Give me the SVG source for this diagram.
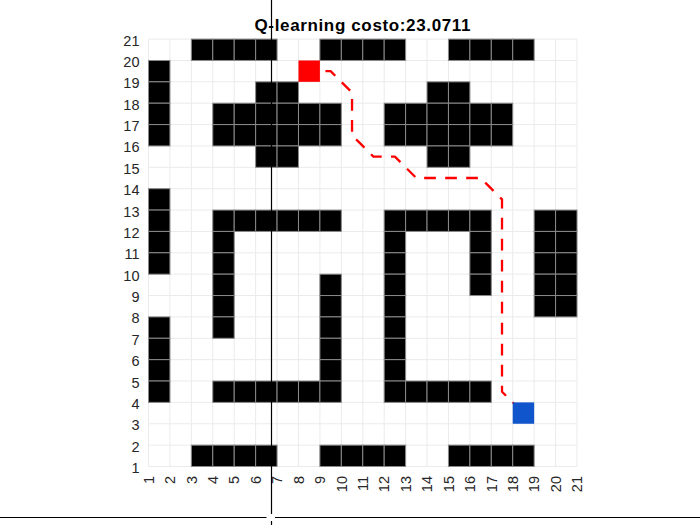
<svg xmlns="http://www.w3.org/2000/svg" xmlns:xlink="http://www.w3.org/1999/xlink" width="700" height="525" viewBox="0 0 700 525">
<style>
.o{fill:#000;stroke:#8a8a8a;stroke-width:1}
.g{stroke:#ebebeb;stroke-width:1;fill:none}
.yl{font-family:"Liberation Sans",Arial,sans-serif;font-size:14.5px;fill:#262626;text-anchor:end}
.xl{font-family:"Liberation Sans",Arial,sans-serif;font-size:14.5px;fill:#262626;text-anchor:end}
.t{font-family:"Liberation Sans",Arial,sans-serif;font-size:17px;font-weight:bold;fill:#000;text-anchor:middle}
.ax{stroke:#000;stroke-width:1.2;fill:none}
</style>
<defs>
<rect id="c" class="o" width="21.43" height="21.37"/>
</defs>
<rect width="700" height="525" fill="#fff"/>
<g id="grid">
<path class="g" d="M148.5 39.1V466.5M169.93 39.1V466.5M191.35 39.1V466.5M212.78 39.1V466.5M234.2 39.1V466.5M255.63 39.1V466.5M277.05 39.1V466.5M298.48 39.1V466.5M319.9 39.1V466.5M341.33 39.1V466.5M362.75 39.1V466.5M384.18 39.1V466.5M405.6 39.1V466.5M427.03 39.1V466.5M448.45 39.1V466.5M469.88 39.1V466.5M491.3 39.1V466.5M512.73 39.1V466.5M534.15 39.1V466.5M555.58 39.1V466.5M577 39.1V466.5"/>
<path class="g" d="M148.5 466.5H577M148.5 445.13H577M148.5 423.76H577M148.5 402.39H577M148.5 381.02H577M148.5 359.65H577M148.5 338.28H577M148.5 316.91H577M148.5 295.54H577M148.5 274.17H577M148.5 252.8H577M148.5 231.43H577M148.5 210.06H577M148.5 188.69H577M148.5 167.32H577M148.5 145.95H577M148.5 124.58H577M148.5 103.21H577M148.5 81.84H577M148.5 60.47H577M148.5 39.1H577"/>
</g>
<g id="obstacles">
<!-- row 20 -->
<use href="#c" x="191.35" y="39.1"/><use href="#c" x="212.78" y="39.1"/><use href="#c" x="234.2" y="39.1"/><use href="#c" x="255.63" y="39.1"/>
<use href="#c" x="319.9" y="39.1"/><use href="#c" x="341.33" y="39.1"/><use href="#c" x="362.75" y="39.1"/><use href="#c" x="384.18" y="39.1"/>
<use href="#c" x="448.45" y="39.1"/><use href="#c" x="469.88" y="39.1"/><use href="#c" x="491.3" y="39.1"/><use href="#c" x="512.73" y="39.1"/>
<!-- row 19 -->
<use href="#c" x="148.5" y="60.47"/>
<!-- row 18 -->
<use href="#c" x="148.5" y="81.84"/><use href="#c" x="255.63" y="81.84"/><use href="#c" x="277.05" y="81.84"/><use href="#c" x="427.03" y="81.84"/><use href="#c" x="448.45" y="81.84"/>
<!-- row 17 -->
<use href="#c" x="148.5" y="103.21"/>
<use href="#c" x="212.78" y="103.21"/><use href="#c" x="234.2" y="103.21"/><use href="#c" x="255.63" y="103.21"/><use href="#c" x="277.05" y="103.21"/><use href="#c" x="298.48" y="103.21"/><use href="#c" x="319.9" y="103.21"/>
<use href="#c" x="384.18" y="103.21"/><use href="#c" x="405.6" y="103.21"/><use href="#c" x="427.03" y="103.21"/><use href="#c" x="448.45" y="103.21"/><use href="#c" x="469.88" y="103.21"/><use href="#c" x="491.3" y="103.21"/>
<!-- row 16 -->
<use href="#c" x="148.5" y="124.58"/>
<use href="#c" x="212.78" y="124.58"/><use href="#c" x="234.2" y="124.58"/><use href="#c" x="255.63" y="124.58"/><use href="#c" x="277.05" y="124.58"/><use href="#c" x="298.48" y="124.58"/><use href="#c" x="319.9" y="124.58"/>
<use href="#c" x="384.18" y="124.58"/><use href="#c" x="405.6" y="124.58"/><use href="#c" x="427.03" y="124.58"/><use href="#c" x="448.45" y="124.58"/><use href="#c" x="469.88" y="124.58"/><use href="#c" x="491.3" y="124.58"/>
<!-- row 15 -->
<use href="#c" x="255.63" y="145.95"/><use href="#c" x="277.05" y="145.95"/><use href="#c" x="427.03" y="145.95"/><use href="#c" x="448.45" y="145.95"/>
<!-- row 13 -->
<use href="#c" x="148.5" y="188.69"/>
<!-- row 12 -->
<use href="#c" x="148.5" y="210.06"/>
<use href="#c" x="212.78" y="210.06"/><use href="#c" x="234.2" y="210.06"/><use href="#c" x="255.63" y="210.06"/><use href="#c" x="277.05" y="210.06"/><use href="#c" x="298.48" y="210.06"/><use href="#c" x="319.9" y="210.06"/>
<use href="#c" x="384.18" y="210.06"/><use href="#c" x="405.6" y="210.06"/><use href="#c" x="427.03" y="210.06"/><use href="#c" x="448.45" y="210.06"/><use href="#c" x="469.88" y="210.06"/>
<use href="#c" x="534.15" y="210.06"/><use href="#c" x="555.58" y="210.06"/>
<!-- row 11 -->
<use href="#c" x="148.5" y="231.43"/><use href="#c" x="212.78" y="231.43"/><use href="#c" x="384.18" y="231.43"/><use href="#c" x="469.88" y="231.43"/><use href="#c" x="534.15" y="231.43"/><use href="#c" x="555.58" y="231.43"/>
<!-- row 10 -->
<use href="#c" x="148.5" y="252.8"/><use href="#c" x="212.78" y="252.8"/><use href="#c" x="384.18" y="252.8"/><use href="#c" x="469.88" y="252.8"/><use href="#c" x="534.15" y="252.8"/><use href="#c" x="555.58" y="252.8"/>
<!-- row 9 -->
<use href="#c" x="212.78" y="274.17"/><use href="#c" x="319.9" y="274.17"/><use href="#c" x="384.18" y="274.17"/><use href="#c" x="469.88" y="274.17"/><use href="#c" x="534.15" y="274.17"/><use href="#c" x="555.58" y="274.17"/>
<!-- row 8 -->
<use href="#c" x="212.78" y="295.54"/><use href="#c" x="319.9" y="295.54"/><use href="#c" x="384.18" y="295.54"/><use href="#c" x="534.15" y="295.54"/><use href="#c" x="555.58" y="295.54"/>
<!-- row 7 -->
<use href="#c" x="148.5" y="316.91"/><use href="#c" x="212.78" y="316.91"/><use href="#c" x="319.9" y="316.91"/><use href="#c" x="384.18" y="316.91"/>
<!-- row 6 -->
<use href="#c" x="148.5" y="338.28"/><use href="#c" x="319.9" y="338.28"/><use href="#c" x="384.18" y="338.28"/>
<!-- row 5 -->
<use href="#c" x="148.5" y="359.65"/><use href="#c" x="319.9" y="359.65"/><use href="#c" x="384.18" y="359.65"/>
<!-- row 4 -->
<use href="#c" x="148.5" y="381.02"/>
<use href="#c" x="212.78" y="381.02"/><use href="#c" x="234.2" y="381.02"/><use href="#c" x="255.63" y="381.02"/><use href="#c" x="277.05" y="381.02"/><use href="#c" x="298.48" y="381.02"/><use href="#c" x="319.9" y="381.02"/>
<use href="#c" x="384.18" y="381.02"/><use href="#c" x="405.6" y="381.02"/><use href="#c" x="427.03" y="381.02"/><use href="#c" x="448.45" y="381.02"/><use href="#c" x="469.88" y="381.02"/>
<!-- row 1 -->
<use href="#c" x="191.35" y="445.13"/><use href="#c" x="212.78" y="445.13"/><use href="#c" x="234.2" y="445.13"/><use href="#c" x="255.63" y="445.13"/>
<use href="#c" x="319.9" y="445.13"/><use href="#c" x="341.33" y="445.13"/><use href="#c" x="362.75" y="445.13"/><use href="#c" x="384.18" y="445.13"/>
<use href="#c" x="448.45" y="445.13"/><use href="#c" x="469.88" y="445.13"/><use href="#c" x="491.3" y="445.13"/><use href="#c" x="512.73" y="445.13"/>
</g>
<g id="connectors">
<path id="route" d="M309.19 71.16L330.61 71.16L352.04 92.53L352.04 135.27L373.46 156.64L394.89 156.64L416.31 178.01L480.59 178.01L502.01 199.38L502.01 391.71L523.44 413.08" fill="none" stroke="#ff0000" stroke-width="2.3" stroke-dasharray="11.7 9.3" stroke-dashoffset="4.77" stroke-linejoin="round"/>
</g>
<g id="start"><rect x="298.48" y="60.47" width="21.43" height="21.37" fill="#ff0000"/></g>
<g id="goal"><rect x="512.73" y="402.39" width="21.43" height="21.37" fill="#1155cc"/></g>
<g id="ylabels">
<text class="yl" x="139.5" y="473">1</text>
<text class="yl" x="139.5" y="451.63">2</text>
<text class="yl" x="139.5" y="430.26">3</text>
<text class="yl" x="139.5" y="408.89">4</text>
<text class="yl" x="139.5" y="387.52">5</text>
<text class="yl" x="139.5" y="366.15">6</text>
<text class="yl" x="139.5" y="344.78">7</text>
<text class="yl" x="139.5" y="323.41">8</text>
<text class="yl" x="139.5" y="302.04">9</text>
<text class="yl" x="139.5" y="280.67">10</text>
<text class="yl" x="139.5" y="259.3">11</text>
<text class="yl" x="139.5" y="237.93">12</text>
<text class="yl" x="139.5" y="216.56">13</text>
<text class="yl" x="139.5" y="195.19">14</text>
<text class="yl" x="139.5" y="173.82">15</text>
<text class="yl" x="139.5" y="152.45">16</text>
<text class="yl" x="139.5" y="131.08">17</text>
<text class="yl" x="139.5" y="109.71">18</text>
<text class="yl" x="139.5" y="88.34">19</text>
<text class="yl" x="139.5" y="66.97">20</text>
<text class="yl" x="139.5" y="45.6">21</text>
</g>
<g id="xlabels">
<text class="xl" transform="translate(153.7 476) rotate(-90)">1</text>
<text class="xl" transform="translate(175.13 476) rotate(-90)">2</text>
<text class="xl" transform="translate(196.55 476) rotate(-90)">3</text>
<text class="xl" transform="translate(217.98 476) rotate(-90)">4</text>
<text class="xl" transform="translate(239.4 476) rotate(-90)">5</text>
<text class="xl" transform="translate(260.83 476) rotate(-90)">6</text>
<text class="xl" transform="translate(282.25 476) rotate(-90)">7</text>
<text class="xl" transform="translate(303.68 476) rotate(-90)">8</text>
<text class="xl" transform="translate(325.1 476) rotate(-90)">9</text>
<text class="xl" transform="translate(346.53 476) rotate(-90)">10</text>
<text class="xl" transform="translate(367.95 476) rotate(-90)">11</text>
<text class="xl" transform="translate(389.38 476) rotate(-90)">12</text>
<text class="xl" transform="translate(410.8 476) rotate(-90)">13</text>
<text class="xl" transform="translate(432.23 476) rotate(-90)">14</text>
<text class="xl" transform="translate(453.65 476) rotate(-90)">15</text>
<text class="xl" transform="translate(475.08 476) rotate(-90)">16</text>
<text class="xl" transform="translate(496.5 476) rotate(-90)">17</text>
<text class="xl" transform="translate(517.93 476) rotate(-90)">18</text>
<text class="xl" transform="translate(539.35 476) rotate(-90)">19</text>
<text class="xl" transform="translate(560.78 476) rotate(-90)">20</text>
<text class="xl" transform="translate(582.2 476) rotate(-90)">21</text>
</g>
<text class="t" x="362.5" y="31" textLength="216" lengthAdjust="spacing">Q-learning costo:23.0711</text>
<g id="overlay-lines">
<path class="ax" d="M271.5 0V514M271.5 521V525"/>
<path class="ax" d="M0 517.5H266.5M275 517.5H700"/>
</g>
</svg>
